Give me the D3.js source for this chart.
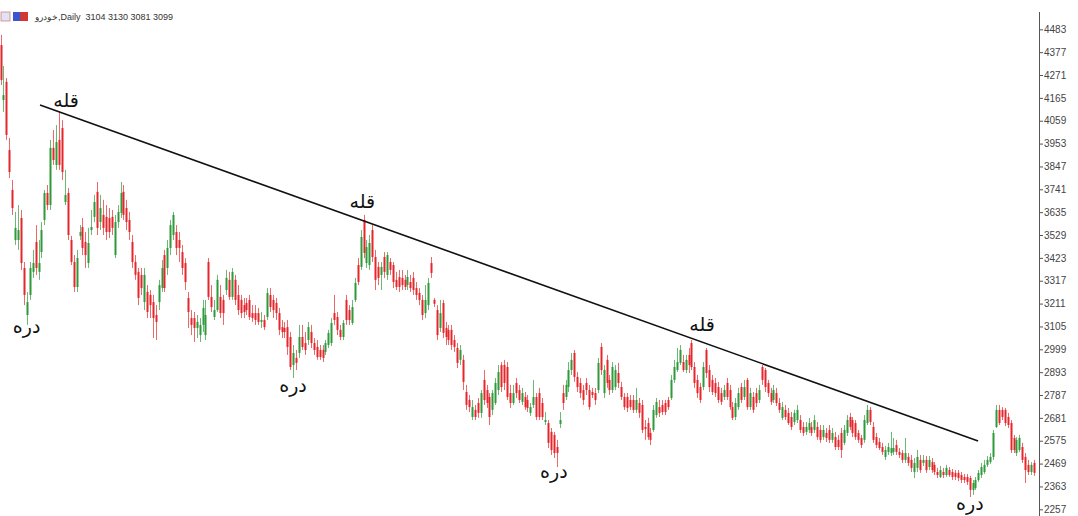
<!DOCTYPE html>
<html><head><meta charset="utf-8">
<script src="https://cdn.jsdelivr.net/npm/d3@7"></script>
<style>html,body{margin:0;padding:0;background:#fff;overflow:hidden}</style>
</head><body><svg id="c" width="1078" height="516"></svg>
<script>
const opens = [
4410,4155,4239,3923,3738,3506,3506,3608,3376,3158,3251,3358,3497,3358,3450,3599,3724,3668,3933,3854,
3970,4025,3682,3724,3506,3404,3288,3525,3566,3497,3399,3552,3613,3729,3589,3622,3613,3608,3613,3436,
3589,3631,3729,3654,3599,3497,3404,3358,3344,3218,3265,3251,3218,3158,3218,3283,3436,3376,3469,3529,
3543,3506,3450,3399,3237,3144,3144,3098,3065,3112,
3065,3404,3242,3149,3181,3242,3228,3274,3321,3242,3321,3251,3228,3204,3214,3228,3167,3167,3167,3126,
3135,3149,3251,3228,3214,3167,3102,3098,3102,3056,2926,2959,2982,3056,3028,3042,3079,3028,3010,2996,
2996,2987,3019,3028,3167,3149,3089,3056,3228,3181,3121,3228,3390,3381,3599,3399,3390,3552,3427,3381,
3344,3427,3344,3404,3390,3321,3334,3330,3321,3297,3311,3330,3283,3260,3228,3167,3204,3399,
3228,3181,3098,3214,3098,3089,3089,3042,3005,2950,2950,2801,2764,2685,2718,2750,2704,2857,2810,2778,
2718,2750,2810,2926,2926,2917,2796,2750,2843,2810,2755,2778,2764,2704,2741,2778,2796,2750,2662,2657,
2616,2602,2546,2653,2796,2778,2824,2903,2982,2871,2843,2810,2843,2810,2801,2796,2810,3010,2796,2950,
2857,2810,2824,2889,2824,2778,2778,2764,2764,2718,
2750,2741,2639,2657,2611,2625,2694,2731,2741,2750,2764,2773,2857,2903,2936,2940,2903,2973,3028,2917,
2857,2824,2824,2996,2903,2857,2843,2824,2796,2778,2843,2810,2731,2685,2731,2824,2778,2857,2731,2778,
2796,2764,2917,2903,2843,2796,2764,2796,2750,2681,2718,2704,2685,2662,2671,2671,2639,2616,2625,2639,
2625,2639,2625,2592,2611,2625,2579,2592,2579,
2611,2565,2611,2685,2671,2657,2611,2588,2579,2657,2718,2639,2592,2569,2546,2500,2523,2518,2523,2555,
2523,2518,2486,2500,2486,2430,2449,2486,2472,2486,2453,2476,2463,2430,2407,2430,2416,2439,2430,2426,
2426,2416,2407,2407,2402,2347,2356,2393,2416,2430,2463,2476,2500,2639,2718,2718,2718,2685,2657,2588,
2518,2532,2546,2500,2463,2430,2472];
const highs = [
4457,4313,4257,3979,3784,3636,3668,3645,3404,3265,3404,3460,3575,3506,3589,3738,3761,3970,4016,4039,
4100,4062,3831,3747,3525,3436,3460,3575,3608,3543,3562,3645,3715,3775,3715,3692,3668,3654,3645,3622,
3668,3775,3761,3692,3636,3529,3436,3376,3376,3376,3297,3274,3251,3204,3321,3413,3460,3506,3599,3636,
3575,3543,3483,3422,3265,3181,3172,3158,3144,3228,
3228,3422,3297,3228,3344,3297,3251,3367,3358,3376,3344,3297,3251,3237,3237,3251,3204,3204,3191,3172,
3158,3283,3283,3251,3237,3191,3135,3126,3135,3079,3019,2996,3112,3112,3079,3126,3112,3051,3042,3019,
3019,3042,3089,3144,3251,3172,3112,3135,3251,3204,3228,3330,3422,3552,3622,3506,3529,3575,3460,3404,
3404,3450,3450,3422,3404,3358,3367,3367,3344,3367,3344,3358,3311,3283,3251,3297,3330,3427,
3237,3204,3228,3228,3126,3112,3112,3065,3028,3019,2973,2834,2787,2764,2741,2773,2810,2903,2834,2796,
2810,2866,2926,2940,2950,2940,2834,2834,2866,2834,2820,2801,2787,2750,2857,2796,2820,2773,2708,2671,
2634,2616,2579,2708,2834,2857,2940,2982,2996,2894,2866,2834,2866,2834,2820,2820,2959,3028,2926,2973,
2880,2940,2926,2936,2848,2796,2796,2787,2787,2820,
2773,2764,2671,2681,2634,2741,2773,2764,2764,2764,2778,2880,2950,3005,3019,2973,2973,3005,3042,2940,
2880,2843,2940,3005,2926,2880,2866,2848,2820,2834,2866,2834,2755,2773,2820,2843,2857,2866,2820,2801,
2820,2834,2926,2912,2857,2820,2834,2820,2773,2755,2741,2727,2708,2718,2741,2694,2662,2662,2681,2662,
2694,2662,2648,2648,2634,2648,2634,2616,2602,
2634,2648,2694,2704,2685,2671,2625,2602,2694,2741,2731,2662,2611,2588,2565,2551,2565,2616,2588,2579,
2541,2532,2588,2518,2509,2495,2532,2509,2509,2504,2504,2495,2476,2449,2458,2449,2463,2453,2444,2439,
2439,2430,2421,2421,2412,2393,2407,2439,2472,2486,2504,2518,2625,2741,2741,2731,2727,2704,2671,2602,
2592,2602,2565,2518,2486,2476,2486];
const lows = [
4225,4100,3970,3793,3622,3483,3460,3367,3204,3112,3228,3330,3344,3321,3422,3575,3645,3645,3854,3831,
3831,3784,3668,3506,3390,3265,3265,3506,3436,3376,3376,3529,3589,3529,3552,3529,3506,3515,3529,3422,
3562,3608,3599,3552,3506,3376,3321,3204,3251,3181,3144,3144,3051,3042,3181,3265,3265,3344,3436,3506,
3436,3404,3344,3274,3098,3065,3033,3051,3033,3079,
3042,3228,3172,3135,3172,3144,3112,3251,3228,3228,3204,3158,3144,3144,3158,3135,3126,3112,3112,3098,
3089,3135,3172,3144,3135,3065,3051,3051,2973,2903,2866,2903,2959,2996,2973,3019,3005,2973,2950,2950,
2940,2973,3005,3014,3112,3065,3042,3042,3112,3112,3112,3218,3297,3367,3422,3376,3367,3404,3274,3297,
3274,3330,3321,3344,3283,3274,3265,3274,3274,3274,3265,3251,3228,3204,3135,3144,3181,3330,
3195,3042,3079,3051,3019,3019,2996,2987,2912,2926,2810,2718,2708,2671,2671,2681,2681,2741,2727,2648,
2694,2741,2787,2801,2810,2764,2727,2741,2773,2750,2741,2718,2708,2690,2727,2671,2671,2671,2648,2541,
2509,2495,2453,2634,2718,2764,2801,2880,2848,2801,2773,2741,2787,2718,2773,2741,2796,2880,2773,2820,
2787,2796,2810,2820,2764,2718,2708,2718,2704,2704,
2681,2611,2579,2579,2555,2616,2681,2685,2694,2694,2718,2764,2843,2894,2926,2894,2889,2889,2903,2820,
2773,2750,2810,2866,2801,2787,2778,2750,2741,2764,2764,2718,2671,2671,2718,2750,2764,2718,2718,2704,
2731,2750,2834,2801,2778,2741,2750,2736,2704,2671,2671,2648,2625,2648,2657,2611,2597,2602,2611,2597,
2611,2579,2565,2579,2569,2565,2565,2532,2532,
2495,2555,2597,2625,2592,2579,2565,2541,2565,2648,2648,2565,2541,2532,2509,2486,2509,2504,2509,2509,
2495,2472,2472,2458,2430,2402,2430,2426,2458,2426,2439,2426,2416,2402,2402,2402,2407,2407,2393,2393,
2388,2379,2379,2370,2314,2324,2347,2384,2402,2421,2453,2467,2486,2634,2648,2671,2643,2634,2518,2518,
2504,2523,2472,2379,2416,2416,2412];
const closes = [
4248,4178,3993,3821,3654,3562,3552,3399,3251,3218,3376,3399,3376,3399,3552,3724,3668,3933,3877,3960,
3854,3821,3715,3529,3404,3288,3422,3543,3469,3436,3492,3566,3682,3562,3654,3562,3543,3543,3562,3589,
3636,3724,3622,3589,3543,3404,3344,3237,3283,3344,3172,3204,3144,3126,3297,3376,3283,3469,3575,3622,
3469,3469,3376,3311,3172,3112,3098,3126,3112,3191,
3158,3242,3195,3181,3321,3167,3167,3330,3242,3358,3228,3181,3167,3172,3181,3149,3144,3135,3126,3135,
3102,3260,3195,3181,3167,3089,3079,3079,3010,2917,2982,2936,3056,3010,2996,3102,3028,2996,2963,2963,
2959,3028,3075,3121,3135,3089,3056,3121,3135,3135,3195,3307,3311,3520,3446,3473,3492,3427,3321,3330,
3381,3358,3436,3367,3311,3288,3288,3297,3288,3334,3283,3274,3251,3228,3158,3228,3307,3353,
3210,3065,3167,3075,3056,3042,3019,3010,2936,2996,2848,2741,2731,2731,2685,2704,2796,2764,2750,2685,
2796,2843,2894,2824,2843,2778,2750,2796,2796,2764,2796,2731,2727,2731,2778,2685,2685,2685,2671,2565,
2532,2518,2518,2671,2750,2834,2903,2950,2871,2824,2796,2764,2810,2731,2787,2764,2936,2903,2903,2843,
2810,2917,2903,2843,2778,2731,2727,2731,2718,2764,
2704,2625,2629,2592,2579,2718,2755,2704,2708,2708,2731,2857,2917,2940,2996,2903,2950,2926,2917,2843,
2796,2764,2917,2889,2824,2801,2796,2764,2755,2810,2778,2731,2681,2750,2796,2764,2824,2731,2796,2718,
2750,2810,2857,2824,2796,2755,2810,2750,2718,2731,2685,2657,2639,2704,2718,2625,2611,2639,2657,2611,
2671,2592,2579,2625,2588,2579,2611,2546,2546,
2532,2625,2671,2639,2611,2592,2579,2555,2671,2718,2662,2579,2555,2541,2523,2532,2546,2541,2541,2523,
2509,2486,2518,2472,2449,2472,2500,2439,2486,2439,2486,2439,2430,2416,2439,2416,2449,2416,2407,2407,
2402,2393,2393,2384,2347,2379,2393,2426,2453,2463,2486,2500,2611,2718,2657,2685,2657,2648,2532,2532,
2579,2588,2486,2439,2430,2463,2426];

const yTicks = [4483,4377,4271,4165,4059,3953,3847,3741,3635,3529,3423,3317,3211,3105,2999,2893,2787,2681,2575,2469,2363,2257];
const symbol = "خودرو";
const period = "Daily";
const lastBar = [3104, 3130, 3081, 3099];
const labelTexts = ["قله","قله","قله","دره","دره","دره","دره"];
const labelIdx = [22.4, 123.6, 239.6, 8.9, 99.9, 189.0, 331.1];
const labelPrice = [4123, 3654, 3084, 3075, 2801, 2402, 2254];
const trendIdx = [13.5, 333.9];
const trendPrice = [4132, 2574];

const svg = d3.select("#c");
svg.append("rect").attr("width",1078).attr("height",516).attr("fill","#fff");
const N = closes.length;
const x = d3.scaleLinear().domain([0, N-1]).range([0.5, 1034]);
const y = d3.scaleLinear().domain([2257, 4483]).range([509.3, 29.3]);

const data = d3.range(N).map(i => ({i, o: opens[i], h: highs[i], l: lows[i], c: closes[i]}));
const colorOf = d => d.c > d.o ? "#2e9a3a" : (d.c < d.o ? "#e5262c" : "#777");

const g = svg.append("g");
g.selectAll("line.w").data(data).join("line").attr("class","w")
  .attr("x1", d => Math.round(x(d.i)) + 0.5).attr("x2", d => Math.round(x(d.i)) + 0.5)
  .attr("y1", d => y(d.h)).attr("y2", d => y(d.l))
  .attr("stroke", colorOf).attr("stroke-opacity", 0.7).attr("stroke-width", 1);
g.selectAll("rect.b").data(data).join("rect").attr("class","b")
  .attr("x", d => Math.round(x(d.i)) - 0.5).attr("width", 2)
  .attr("y", d => y(Math.max(d.o, d.c)))
  .attr("height", d => Math.max(1.2, Math.abs(y(d.o) - y(d.c))))
  .attr("fill", colorOf);

// trendline
svg.append("line")
  .attr("x1", x(trendIdx[0])).attr("y1", y(trendPrice[0]))
  .attr("x2", x(trendIdx[1])).attr("y2", y(trendPrice[1]))
  .attr("stroke", "#111").attr("stroke-width", 1.6);

// labels
svg.selectAll("text.lab").data(labelTexts).join("text").attr("class","lab")
  .attr("x", (d,k) => x(labelIdx[k])).attr("y", (d,k) => y(labelPrice[k]))
  .attr("text-anchor","middle")
  .attr("font-family","'DejaVu Sans', sans-serif").attr("font-size", 19)
  .attr("fill","#111").text(d => d);

// right axis
const ax = svg.append("g").attr("transform","translate(1039,0)")
  .call(d3.axisRight(y).tickValues(yTicks).tickSize(4).tickPadding(1).tickFormat(d3.format("d")));
ax.select(".domain").remove();
ax.selectAll(".tick line").attr("stroke","#555");
ax.selectAll(".tick text").attr("font-family","'Liberation Sans', Arial, sans-serif")
  .attr("font-size", 10).attr("fill","#444");
svg.append("line").attr("x1",1039.5).attr("x2",1039.5).attr("y1",12).attr("y2",516)
  .attr("stroke","#555").attr("stroke-width",1);

// header
svg.append("rect").attr("x",1).attr("y",12).attr("width",9).attr("height",9)
  .attr("fill","#dfe4f5").attr("stroke","#d08080").attr("stroke-width",0.8);
svg.append("rect").attr("x",13).attr("y",12).attr("width",7).attr("height",9).attr("fill","#3b57d0");
svg.append("rect").attr("x",20).attr("y",12).attr("width",8).attr("height",9).attr("fill","#d03838");
svg.append("text").attr("x",35).attr("y",19.5)
  .attr("font-family","'Liberation Sans', Arial, sans-serif").attr("font-size",9).attr("fill","#333")
  .style("white-space","pre")
  .text(symbol + "," + period + "  " + lastBar.join(" "));
</script>
</body></html>
